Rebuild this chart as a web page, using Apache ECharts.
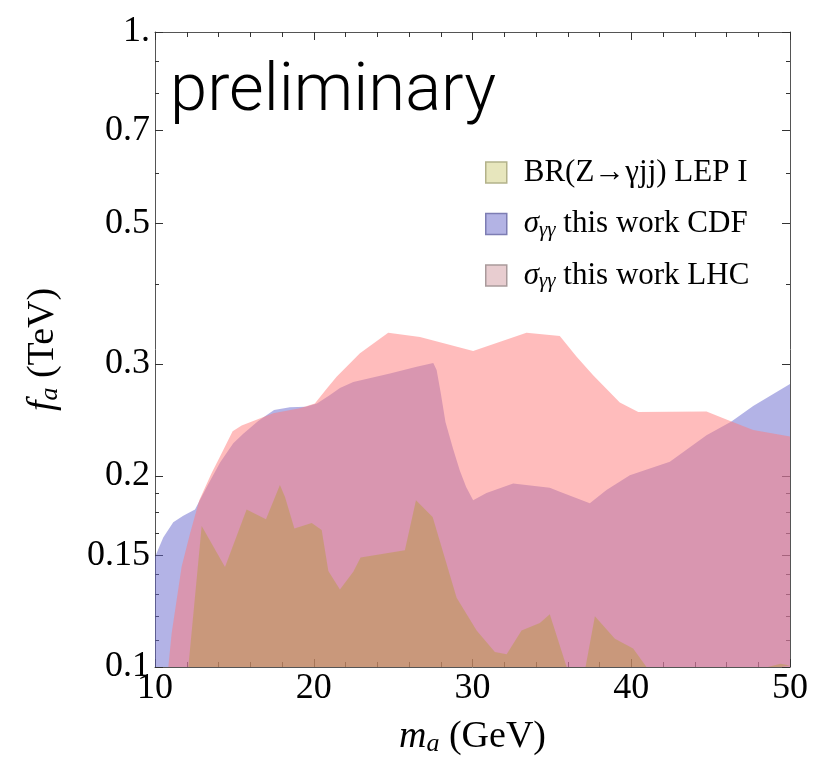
<!DOCTYPE html>
<html>
<head>
<meta charset="utf-8">
<script src="https://cdn.jsdelivr.net/npm/echarts@6/dist/echarts.min.js"></script>
<style>
  html, body { margin: 0; padding: 0; background: #fff; }
  #chart { width: 827px; height: 761px; }
</style>
</head>
<body>
<div id="chart"></div>
<script>
// upper edges of the three excluded regions, m_a in GeV, f_a in TeV
const cdfMass = [10, 10.52, 11.15, 11.78, 12.52, 13.3, 14.1, 14.93, 15.56, 16.5, 17.5, 18.5, 19.5, 20.2, 21.0,
  21.65, 22.49, 24.8, 26.48, 27.53, 27.74, 28.0, 28.3, 28.79, 29.2, 29.6, 30.04, 30.88, 32.56, 34.87,
  35.5, 37.39, 38.44, 39.91, 42.43, 44.74, 46.31, 47.68, 50];
const cdfF = [0.149, 0.160, 0.169, 0.173, 0.177, 0.193, 0.210, 0.225, 0.233, 0.244, 0.254, 0.2565, 0.257, 0.260, 0.268,
  0.275, 0.281, 0.290, 0.297, 0.301, 0.2935, 0.270, 0.243, 0.220, 0.204, 0.192, 0.183, 0.188, 0.1946, 0.1915,
  0.1888, 0.181, 0.190, 0.2005, 0.2105, 0.2318, 0.2435, 0.2576, 0.279];

const lhcMass = [10.84, 11.05, 11.68, 12.2, 12.79, 13.57, 14.09, 14.89, 15.46, 17.45, 19.13, 20.07, 20.8, 21.44,
  22.91, 24.69, 26.69, 30.04, 33.4, 35.5, 36.56, 37.6, 39.28, 40.44, 44.74, 46.31, 47.68, 50];
const lhcF = [0.1, 0.113, 0.144, 0.162, 0.183, 0.202, 0.2143, 0.235, 0.240, 0.251, 0.2555, 0.260, 0.274, 0.2865,
  0.312, 0.336, 0.331, 0.3146, 0.336, 0.332, 0.308, 0.288, 0.261, 0.252, 0.2526, 0.2435, 0.2362, 0.2306];

const lepMass = [12.1, 12.94, 14.41, 15.77, 16.99, 17.87, 18.19, 18.78, 19.87, 20.5, 20.92, 21.65, 22.49, 22.95,
  25.74, 26.44, 27.49, 29.0, 30.26, 31.41, 32.15, 33.09, 34.24, 34.87, 35.93, 37.12, 37.71, 38.97, 40.12,
  40.96, 48.6, 49.4, 50];
const lepF = [0.1, 0.1667, 0.1437, 0.177, 0.1709, 0.1934, 0.1853, 0.1653, 0.1686, 0.1643, 0.1416, 0.1324, 0.1412, 0.1487,
  0.1527, 0.183, 0.1723, 0.1285, 0.1142, 0.1056, 0.1047, 0.1142, 0.1173, 0.1211, 0.1, 0.1, 0.1202, 0.1108, 0.1069,
  0.1, 0.1, 0.1012, 0.1005];

const yMajorTicks = [0.1, 0.15, 0.2, 0.3, 0.5, 0.7, 1];
const yMajorLabels = ['0.1', '0.15', '0.2', '0.3', '0.5', '0.7', '1.'];
const yMinorTicks = [0.11, 0.12, 0.13, 0.14, 0.1625, 0.175, 0.1875, 0.4, 0.6, 0.8, 0.9];

const LEP = 'BR(Z\u2192\u03b3jj) LEP I';
const CDF = '\u03c3\u03b3\u03b3 this work CDF';
const LHC = '\u03c3\u03b3\u03b3 this work LHC';
const legendText = {
  [LEP]: '{t|BR(Z\u2192\u03b3jj) LEP I}',
  [CDF]: '{s|\u03c3}{sub|\u03b3\u03b3}{t| this work CDF}',
  [LHC]: '{s|\u03c3}{sub|\u03b3\u03b3}{t| this work LHC}'
};

const SERIF = "'Liberation Serif', 'Times New Roman', serif";
const FRAME = '#555';
const TICK = '#333';

const toPairs = (xs, ys) => xs.map((x, i) => [x, ys[i]]);
// tick overlay axes live in log10 space, same extent as the log data axis
const logPos = v => Math.min(0, Math.max(-1, Math.log10(v)));

function richStyles(size) {
  const base = { fontFamily: SERIF, fontSize: size, color: '#000', lineHeight: size + 2, verticalAlign: 'middle' };
  return {
    t: base,
    i: Object.assign({}, base, { fontStyle: 'italic' }),
    s: Object.assign({}, base, { fontStyle: 'italic' }),
    // subscript: small box pinned to the bottom of the line
    sub: { fontFamily: SERIF, fontSize: Math.round(size * 0.68), fontStyle: 'italic', color: '#000',
      lineHeight: Math.round(size * 0.5), verticalAlign: 'bottom' }
  };
}

function tickAxis(position, values, len, labels, showLine) {
  const pos = values.map(logPos);
  return {
    type: 'value', min: -1, max: 0, position,
    axisLine: { show: !!showLine, onZero: false, lineStyle: { color: FRAME, width: 1 } },
    splitLine: { show: false },
    axisTick: { show: true, inside: true, length: len, customValues: pos, lineStyle: { color: TICK, width: 1 } },
    axisLabel: labels ? {
      show: true, customValues: pos, margin: 5,
      fontFamily: SERIF, fontSize: 36, color: '#000',
      formatter: v => {
        const k = pos.findIndex(p => Math.abs(p - v) < 1e-9);
        return k >= 0 ? labels[k] : '';
      }
    } : { show: false }
  };
}

function massAxis(position, withLabels) {
  return {
    type: 'value', min: 10, max: 50, interval: 10, position,
    axisLine: { show: true, onZero: false, lineStyle: { color: FRAME, width: 1 } },
    splitLine: { show: false },
    axisTick: { show: true, inside: true, length: 8, lineStyle: { color: TICK, width: 1 } },
    minorTick: { show: true, splitNumber: 5, length: 5, lineStyle: { color: TICK, width: 1 } },
    axisLabel: withLabels ? { show: true, margin: 4, fontFamily: SERIF, fontSize: 36, color: '#000' } : { show: false }
  };
}

const chart = echarts.init(document.getElementById('chart'));

const bottomAxis = massAxis('bottom', true);
bottomAxis.name = '{i|m}{sub|a}{t| (GeV)}';
bottomAxis.nameLocation = 'middle';
bottomAxis.nameGap = 50;
bottomAxis.nameTextStyle = { rich: richStyles(38) };

const leftLabels = tickAxis('left', yMajorTicks, 8, yMajorLabels, false);
leftLabels.name = '{i|f}{sub|a}{t| (TeV)}';
leftLabels.nameLocation = 'middle';
leftLabels.nameGap = 92;
leftLabels.nameTextStyle = { rich: richStyles(38) };

chart.setOption({
  animation: false,
  backgroundColor: '#fff',
  title: {
    text: 'preliminary',
    left: 170, top: 60, padding: 0,
    textStyle: { fontFamily: "Roboto, 'Liberation Sans', Arial, sans-serif", fontSize: 67, fontWeight: 300, color: '#000' }
  },
  grid: { left: 155, right: 37, top: 32, bottom: 94, containLabel: false, outerBoundsMode: 'none' },
  legend: {
    orient: 'vertical', left: 485, top: 156, padding: 0,
    itemWidth: 21, itemHeight: 21, itemGap: 18.5, icon: 'rect',
    selectedMode: false,
    data: [
      { name: LEP, itemStyle: { color: '#e7e6bd', borderColor: '#b3b28a', borderWidth: 1.5 } },
      { name: CDF, itemStyle: { color: '#b3b3e4', borderColor: '#7d7db3', borderWidth: 1.5 } },
      { name: LHC, itemStyle: { color: '#e8cdd0', borderColor: '#a99a9b', borderWidth: 1.5 } }
    ],
    formatter: name => legendText[name],
    textStyle: { fontFamily: SERIF, fontSize: 31, color: '#000', lineHeight: 32, padding: [0, 0, 0, 12], rich: richStyles(31) }
  },
  xAxis: [bottomAxis, massAxis('top', false)],
  yAxis: [
    {
      type: 'log', logBase: 10, min: 0.1, max: 1, position: 'left',
      axisLine: { show: true, onZero: false, lineStyle: { color: FRAME, width: 1 } },
      axisTick: { show: false }, axisLabel: { show: false }, splitLine: { show: false }, minorTick: { show: false }
    },
    leftLabels,
    tickAxis('left', yMinorTicks, 4, null, false),
    tickAxis('right', yMajorTicks, 8, null, true),
    tickAxis('right', yMinorTicks, 4, null, false)
  ],
  series: [
    {
      name: CDF, type: 'line', xAxisIndex: 0, yAxisIndex: 0,
      data: toPairs(cdfMass, cdfF),
      showSymbol: false, symbol: 'none', silent: true,
      lineStyle: { width: 0 },
      itemStyle: { color: '#b3b3e4' },
      areaStyle: { color: 'rgba(103,103,205,0.5)', opacity: 1, origin: 'start' }
    },
    {
      name: LHC, type: 'line', xAxisIndex: 0, yAxisIndex: 0,
      data: toPairs(lhcMass, lhcF),
      showSymbol: false, symbol: 'none', silent: true,
      lineStyle: { width: 0 },
      itemStyle: { color: '#e8cdd0' },
      areaStyle: { color: 'rgba(255,121,121,0.5)', opacity: 1, origin: 'start' }
    },
    {
      name: LEP, type: 'line', xAxisIndex: 0, yAxisIndex: 0,
      data: toPairs(lepMass, lepF),
      showSymbol: false, symbol: 'none', silent: true,
      lineStyle: { width: 0 },
      itemStyle: { color: '#e7e6bd' },
      areaStyle: { color: 'rgba(167,160,0,0.3)', opacity: 1, origin: 'start' }
    }
  ]
});
</script>
</body>
</html>
